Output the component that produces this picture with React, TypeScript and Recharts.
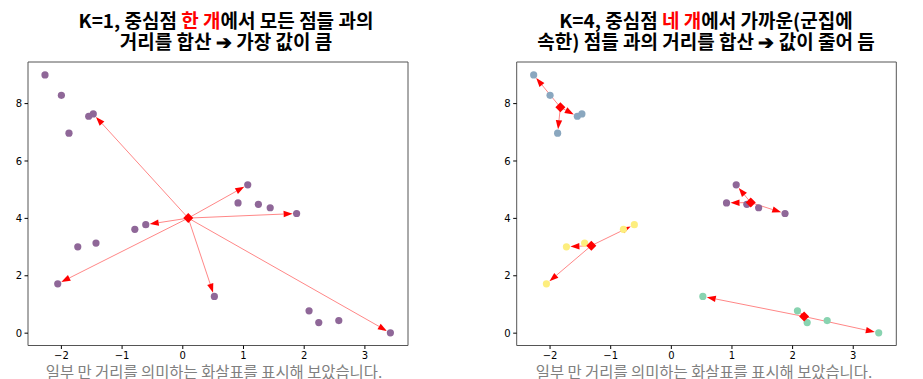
import React from 'react';
import {
  ScatterChart,
  Scatter,
  XAxis,
  YAxis,
  ReferenceLine,
  ReferenceArea,
} from 'recharts';

// 20 sample points
const pointX = [-2.27, -2.0, -1.875, -1.55, -1.475, 0.91, 1.07, 1.245, 1.44, 1.875, -0.61, -0.79, -1.43, -1.73, -2.06, 0.52, 2.08, 2.24, 2.57, 3.42];
const pointY = [9.0, 8.29, 6.97, 7.56, 7.64, 4.54, 5.17, 4.49, 4.37, 4.17, 3.78, 3.62, 3.14, 3.01, 1.72, 1.28, 0.78, 0.37, 0.44, 0.01];
const clusterOf = [1, 1, 1, 1, 1, 0, 0, 0, 0, 0, 3, 3, 3, 3, 3, 2, 2, 2, 2, 2];

// K=1 centroid and the points it points at
const singleCenter = { x: 0.09, y: 4.01 };
const singleTargets = [4, 6, 9, 10, 14, 15, 19];

// K=4 centroids (cluster 0..3) and arrow targets per cluster
const centerX = [1.31, -1.83, 2.19, -1.32];
const centerY = [4.55, 7.87, 0.58, 3.05];
const clusterTargets = [
  [6, 5, 9],
  [0, 2, 3],
  [15, 19, 16],
  [10, 13, 14],
];

const xTicks = [-2, -1, 0, 1, 2, 3];
const yTicks = [0, 2, 4, 6, 8];
const X_DOMAIN: [number, number] = [-2.55, 3.71];
const Y_DOMAIN: [number, number] = [-0.43, 9.45];

const ALL_COLOR = '#8f6798';
const CLUSTER_COLORS = ['#8f6798', '#8aa7bf', '#88d3b0', '#fdee7e'];

const points = pointX.map((x, i) => ({ x, y: pointY[i], c: clusterOf[i] }));

const Dot = (color: string) => (p: any) => (
  <circle cx={p.cx} cy={p.cy} r={3.6} fill={color} />
);

const Diamond = (p: any) => (
  <polygon
    points={`${p.cx},${p.cy - 5} ${p.cx + 5},${p.cy} ${p.cx},${p.cy + 5} ${p.cx - 5},${p.cy}`}
    fill="#ff0000"
  />
);

const Arrow = (p: any) => {
  const { x1, y1, x2, y2 } = p;
  const dx = x2 - x1;
  const dy = y2 - y1;
  const len = Math.hypot(dx, dy) || 1;
  const ux = dx / len;
  const uy = dy / len;
  const shrink = 4;
  const tipX = x2 - ux * shrink;
  const tipY = y2 - uy * shrink;
  const headL = Math.min(9, Math.max(len - shrink, 3));
  const headW = 3.2;
  const bx = tipX - ux * headL;
  const by = tipY - uy * headL;
  return (
    <g>
      <line x1={x1} y1={y1} x2={bx} y2={by} stroke="#ff0000" strokeWidth={0.8} strokeOpacity={0.6} />
      <polygon
        points={`${tipX},${tipY} ${bx - uy * headW},${by + ux * headW} ${bx + uy * headW},${by - ux * headW}`}
        fill="#ff0000"
      />
    </g>
  );
};

const fmt = (v: number) => String(v).replace('-', '\u2212');

const tickStyle = { fontSize: 10, fill: '#000', fontFamily: 'DejaVu Sans' };

function Frame() {
  return (
    <ReferenceArea
      x1={X_DOMAIN[0]}
      x2={X_DOMAIN[1]}
      y1={Y_DOMAIN[0]}
      y2={Y_DOMAIN[1]}
      fill="none"
      stroke="#555"
      strokeWidth={1}
      ifOverflow="visible"
    />
  );
}

function axes() {
  return [
    <XAxis
      key="x"
      type="number"
      dataKey="x"
      domain={X_DOMAIN}
      ticks={xTicks}
      allowDataOverflow
      height={20}
      tickSize={3.5}
      tickMargin={3}
      tick={tickStyle}
      tickFormatter={fmt}
      axisLine={false}
      tickLine={{ stroke: '#000' }}
    />,
    <YAxis
      key="y"
      type="number"
      dataKey="y"
      domain={Y_DOMAIN}
      ticks={yTicks}
      allowDataOverflow
      width={20}
      tickSize={3.5}
      tickMargin={2.5}
      tick={tickStyle}
      axisLine={false}
      tickLine={{ stroke: '#000' }}
    />,
  ];
}

function LeftChart() {
  return (
    <ScatterChart
      width={461}
      height={379}
      margin={{ top: 62, right: 53, bottom: 13.5, left: 8 }}
    >
      {axes()}
      <Frame />
      <Scatter data={points} shape={Dot(ALL_COLOR)} isAnimationActive={false} />
      {singleTargets.map((t) => (
        <ReferenceLine
          key={t}
          segment={[
            { x: singleCenter.x, y: singleCenter.y },
            { x: pointX[t], y: pointY[t] },
          ]}
          shape={Arrow}
          ifOverflow="visible"
        />
      ))}
      <Scatter data={[singleCenter]} shape={Diamond} isAnimationActive={false} />
    </ScatterChart>
  );
}

function RightChart() {
  const centers = centerX.map((x, i) => ({ x, y: centerY[i] }));
  return (
    <ScatterChart
      width={462}
      height={379}
      margin={{ top: 62, right: 26.7, bottom: 13.5, left: 35.7 }}
    >
      {axes()}
      <Frame />
      {CLUSTER_COLORS.map((col, c) => (
        <Scatter
          key={c}
          data={points.filter((p) => p.c === c)}
          shape={Dot(col)}
          isAnimationActive={false}
        />
      ))}
      {clusterTargets.map((targets, c) =>
        targets.map((t) => (
          <ReferenceLine
            key={`${c}-${t}`}
            segment={[
              { x: centerX[c], y: centerY[c] },
              { x: pointX[t], y: pointY[t] },
            ]}
            shape={Arrow}
            ifOverflow="visible"
          />
        ))
      )}
      <Scatter data={centers} shape={Diamond} isAnimationActive={false} />
    </ScatterChart>
  );
}

const titleFont = { fontFamily: '"Noto Sans CJK KR", sans-serif', fontWeight: 700, fontSize: 19 };
const captionFont = { fontFamily: '"Noto Sans CJK KR", sans-serif', fontSize: 15.4 };
const caption = '일부 만 거리를 의미하는 화살표를 표시해 보았습니다.';

export default function App() {
  return (
    <div style={{ position: 'absolute', left: 0, top: 0, width: 923, height: 379, background: '#fff', overflow: 'hidden' }}>
      <div style={{ position: 'absolute', left: 0, top: 0 }}>
        <LeftChart />
      </div>
      <div style={{ position: 'absolute', left: 461, top: 0 }}>
        <RightChart />
      </div>
      <svg width={923} height={379} style={{ position: 'absolute', left: 0, top: 0, pointerEvents: 'none' }}>
        <text x={226} y={27.5} textAnchor="middle" style={titleFont} fill="#000">
          K=1, 중심점 <tspan fill="#ff0000">한 개</tspan>에서 모든 점들 과의
        </text>
        <text x={226} y={48.5} textAnchor="middle" style={titleFont} fill="#000">
          거리를 합산 ➔ 가장 값이 큼
        </text>
        <text x={706} y={27.5} textAnchor="middle" style={titleFont} fill="#000">
          K=4, 중심점 <tspan fill="#ff0000">네 개</tspan>에서 가까운(군집에
        </text>
        <text x={706} y={48.5} textAnchor="middle" style={titleFont} fill="#000">
          속한) 점들 과의 거리를 합산 ➔ 값이 줄어 듬
        </text>
        <text x={214} y={378} textAnchor="middle" style={captionFont} fill="#808080">
          {caption}
        </text>
        <text x={704} y={378} textAnchor="middle" style={captionFont} fill="#808080">
          {caption}
        </text>
      </svg>
    </div>
  );
}
